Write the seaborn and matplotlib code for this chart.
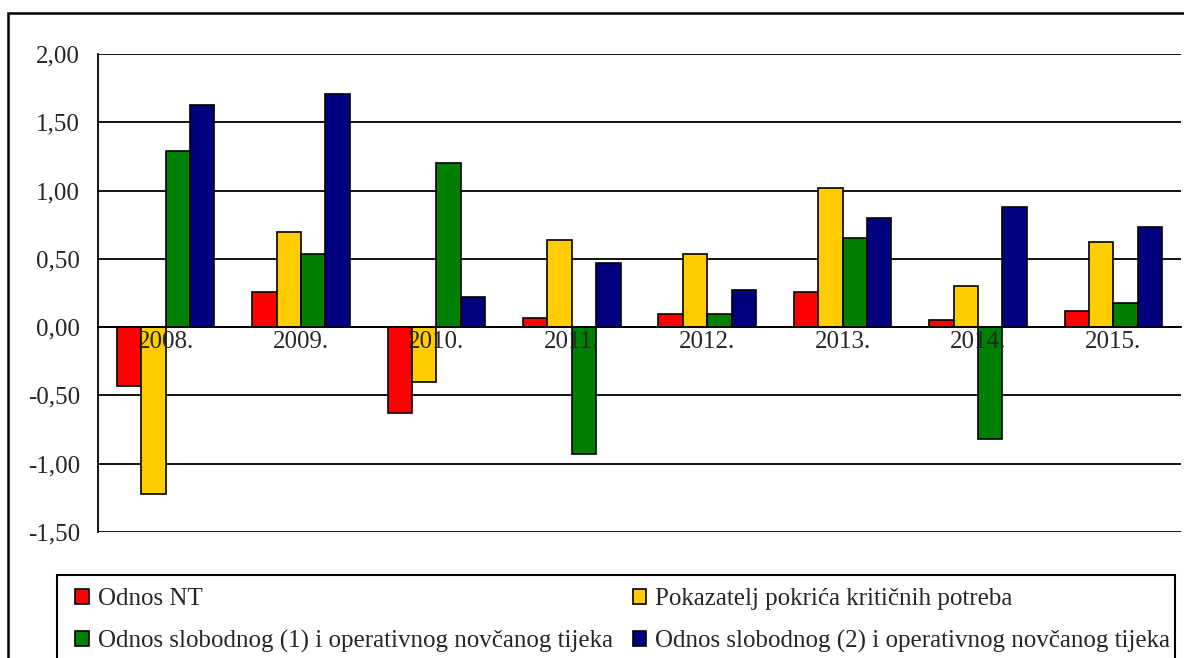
import matplotlib
matplotlib.use("Agg")
import matplotlib.pyplot as plt
import matplotlib.ticker as mticker
from matplotlib.patches import Rectangle
import seaborn as sns
import pandas as pd

years = ["2008.", "2009.", "2010.", "2011.", "2012.", "2013.", "2014.", "2015."]
series_names = [
    "Odnos NT",
    "Pokazatelj pokrića kritičnih potreba",
    "Odnos slobodnog (1) i operativnog novčanog tijeka",
    "Odnos slobodnog (2) i operativnog novčanog tijeka",
]
odnos_nt = [-0.43, 0.26, -0.63, 0.065, 0.095, 0.26, 0.05, 0.12]
pokazatelj = [-1.22, 0.70, -0.40, 0.635, 0.535, 1.02, 0.30, 0.62]
slobodni_1 = [1.29, 0.535, 1.20, -0.93, 0.095, 0.65, -0.82, 0.175]
slobodni_2 = [1.63, 1.71, 0.22, 0.47, 0.27, 0.80, 0.88, 0.73]
colors = ["#FF0000", "#FFCC00", "#008000", "#000080"]

rows = []
for name, vals in zip(series_names, [odnos_nt, pokazatelj, slobodni_1, slobodni_2]):
    for y, v in zip(years, vals):
        rows.append({"year": y, "series": name, "value": v})
df = pd.DataFrame(rows)

sns.set_style("white")
plt.rcParams["font.family"] = ["Liberation Serif", "DejaVu Serif"]
plt.rcParams["font.size"] = 18

W, H = 1184, 658
fig = plt.figure(figsize=(W / 100, H / 100), dpi=100)
ax = fig.add_axes([98 / W, 1 - 532 / H, (1181 - 98) / W, (532 - 54) / H])

sns.barplot(data=df, x="year", y="value", hue="series", palette=colors, saturation=1,
            width=0.72, edgecolor="black", linewidth=1.2, ax=ax, legend=True)

ax.set_ylim(-1.5, 2.0)
ax.set_xlim(-0.5, len(years) - 0.5)
ax.set_xlabel("")
ax.set_ylabel("")

# grid under the bars, category labels over them
ax.set_axisbelow(True)
ax.yaxis.grid(True, color="black", linewidth=1.3)
ax.xaxis.grid(False)
ax.xaxis.set_zorder(3)

ax.yaxis.set_major_locator(mticker.MultipleLocator(0.5))
ax.yaxis.set_major_formatter(mticker.FuncFormatter(lambda v, p: f"{v:.2f}".replace(".", ",")))
ax.tick_params(axis="y", direction="out", length=6, width=1.2, color="black", pad=7, labelsize=18)

ax.spines["top"].set_visible(False)
ax.spines["right"].set_visible(False)
ax.spines["bottom"].set_position(("data", 0))
for s in ["left", "bottom"]:
    ax.spines[s].set_color("black")
    ax.spines[s].set_linewidth(1.3)

ax.set_xticks([i - 0.5 for i in range(len(years) + 1)])
ax.set_xticklabels([])
ax.set_xticks(range(len(years)), minor=True)
ax.set_xticklabels(years, minor=True)
ax.tick_params(axis="x", which="major", direction="out", length=6, width=1.2, color="black")
ax.tick_params(axis="x", which="minor", length=0, pad=3, labelsize=18)

handles, labels = ax.get_legend_handles_labels()
ax.get_legend().remove()
order = [0, 2, 1, 3]
leg = fig.legend([handles[i] for i in order], [labels[i] for i in order],
                 loc="upper left", ncol=2, mode="expand",
                 bbox_to_anchor=(75 / W, 1 - 588 / H, (1170 - 75) / W, 0.0),
                 bbox_transform=fig.transFigure, frameon=False,
                 fontsize=18, handlelength=0.55, handleheight=0.55,
                 handletextpad=0.35, labelspacing=0.78, borderpad=0, borderaxespad=0)

# legend box (runs off the bottom edge) and outer chart border (runs off right/bottom)
fig.add_artist(Rectangle((57 / W, -0.2), (1175 - 57) / W, 1 - 575 / H + 0.2,
                         transform=fig.transFigure, fill=False, edgecolor="black",
                         linewidth=1.5, clip_on=False))
fig.add_artist(Rectangle((8 / W, -0.2), 1.5, 1 - 13 / H + 0.2, transform=fig.transFigure,
                         fill=False, edgecolor="black", linewidth=1.8, clip_on=False))

fig.savefig("out.png", dpi=100)
